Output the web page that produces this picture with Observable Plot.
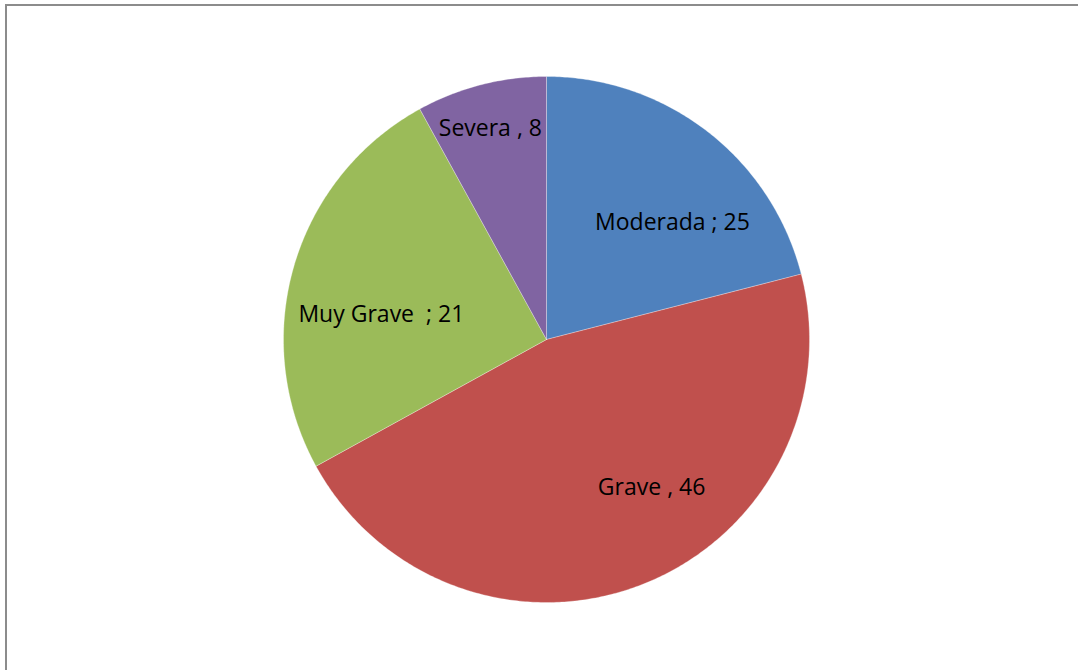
<!DOCTYPE html>
<html><head><meta charset="utf-8">
<script src="https://cdn.jsdelivr.net/npm/d3@7"></script>
<script src="https://cdn.jsdelivr.net/npm/@observablehq/plot@0.6"></script>
<style>
html,body{margin:0;padding:0;background:#fff;overflow:hidden;width:1078px;height:670px}
#frame{position:absolute;left:5px;top:4px;width:1100px;height:700px;border-left:2px solid #8c8c8c;border-top:2px solid #8c8c8c;box-sizing:border-box}
#chart{position:absolute;left:0;top:0}
#chart text{white-space:pre}
</style>
</head><body>
<div id="frame"></div>
<div id="chart"></div>
<script>
// Data (slice sizes as drawn in the picture; label texts as printed)
const categories = ["Moderada", "Grave", "Muy Grave", "Severa"];
const values = [21, 46, 25, 8];
const labels = ["Moderada ; 25", "Grave , 46", "Muy Grave  ; 21", "Severa , 8"];
const colors = ["#4F81BD", "#C0504D", "#9BBB59", "#8064A2"];

// Layout: label placement (angle shift in degrees, radius fraction) relative to slice mid-angle
const labelPlacement = [[9.3, 0.654], [-13.8, 0.69], [-7.6, 0.635], [-0.5, 0.83]];

const arcs = d3.pie().sort(null).value(d => d)(values);
const wedgePts = [];
arcs.forEach((a, i) => {
  wedgePts.push({cat: categories[i], x: 0, y: 0});
  const n = Math.max(8, Math.ceil((a.endAngle - a.startAngle) / 0.01));
  for (let k = 0; k <= n; k++) {
    const t = a.startAngle + (a.endAngle - a.startAngle) * k / n;
    wedgePts.push({cat: categories[i], x: Math.sin(t), y: Math.cos(t)});
  }
  wedgePts.push({cat: categories[i], x: 0, y: 0});
});
const labelPts = arcs.map((a, i) => {
  const mid = (a.startAngle + a.endAngle) / 2 + labelPlacement[i][0] * Math.PI / 180;
  const r = labelPlacement[i][1];
  return {label: labels[i], x: r * Math.sin(mid), y: r * Math.cos(mid)};
});

const chart = Plot.plot({
  width: 1078,
  height: 670,
  marginLeft: 283,
  marginRight: 269,
  marginTop: 76,
  marginBottom: 68,
  x: {domain: [-1, 1], axis: null},
  y: {domain: [-1, 1], axis: null},
  color: {domain: categories, range: colors},
  style: {background: "transparent", overflow: "visible"},
  marks: [
    Plot.line(wedgePts, {x: "x", y: "y", z: "cat", fill: "cat", stroke: "#ffffff", strokeWidth: 0.3, curve: "linear"}),
    Plot.text(labelPts, {x: "x", y: "y", text: "label", fill: "#000", fontSize: 23, fontFamily: "Open Sans", textAnchor: "middle"})
  ]
});
document.getElementById("chart").appendChild(chart);
</script>
</body></html>
